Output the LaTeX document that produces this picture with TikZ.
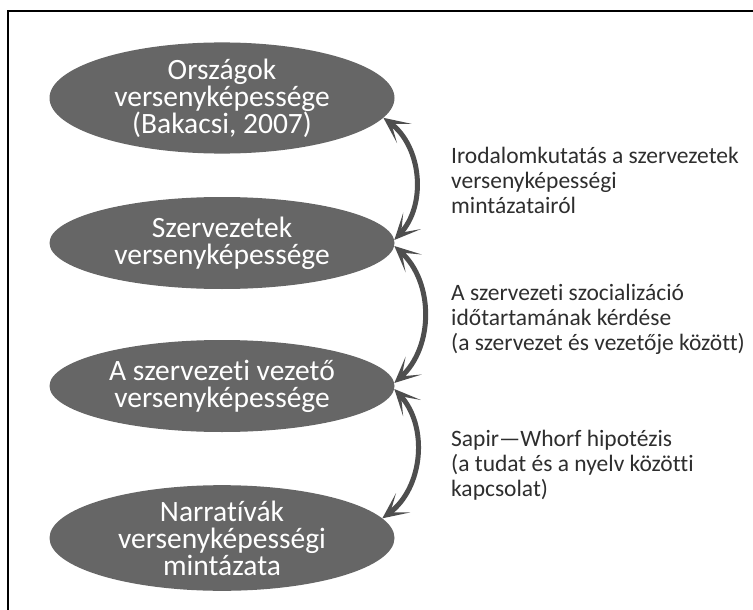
\documentclass[tikz,border=0pt]{standalone}
\usepackage{xcolor}
\usepackage{fontspec}
\setmainfont{Carlito}[Ligatures={NoCommon,NoDiscretionary}]
\usepackage{tikz}
\usetikzlibrary{arrows.meta,shapes.geometric}

\definecolor{blobgray}{HTML}{666666}
\definecolor{arrowgray}{HTML}{4E4E4E}
\definecolor{textgray}{HTML}{2E2E2E}

\begin{document}
\begin{tikzpicture}[x=1pt,y=-1pt,
    blob/.style={ellipse,fill=blobgray,text=white,minimum width=345pt,minimum height=92pt,
      inner sep=0pt,align=center,font=\fontsize{29.5}{27}\selectfont},
    note/.style={anchor=west,align=left,text=textgray,inner sep=0pt,
      font=\fontsize{23.5}{25}\selectfont},
    link/.style={line width=5pt,arrowgray,
      {Stealth[length=26pt,width=24pt,inset=16pt]}-{Stealth[length=26pt,width=24pt,inset=16pt]}}]
  \useasboundingbox (0,0) rectangle (753,610);
  \draw[line width=1.6pt] (8,610) -- (8,11) -- (753,11);
  \node[blob] (orszag) at (222,98) {Országok\\versenyképessége\\(Bakacsi, 2007)};
  \node[blob] (szerv) at (222,243) {Szervezetek\\versenyképessége};
  \node[blob] (vezeto) at (222,386) {A szervezeti vezető\\versenyképessége};
  \node[blob] (narr) at (222,538) {Narratívák\\versenyképességi\\mintázata};
  \draw[link] (orszag.-7) to[bend left=48] (szerv.1);
  \draw[link] (szerv.-1) to[bend left=48] (vezeto.1);
  \draw[link] (vezeto.-1) to[bend left=48] (narr.7);
  \node[note] (irod) at (451,180) {Irodalomkutatás a szervezetek\\versenyképességi\\mintázatairól};
  \node[note] (szoc) at (451,319) {A szervezeti szocializáció\\időtartamának kérdése\\(a szervezet és vezetője között)};
  \node[note] (sapir) at (451,465) {Sapir---Whorf hipotézis\\(a tudat és a nyelv közötti\\kapcsolat)};
\end{tikzpicture}
\end{document}
